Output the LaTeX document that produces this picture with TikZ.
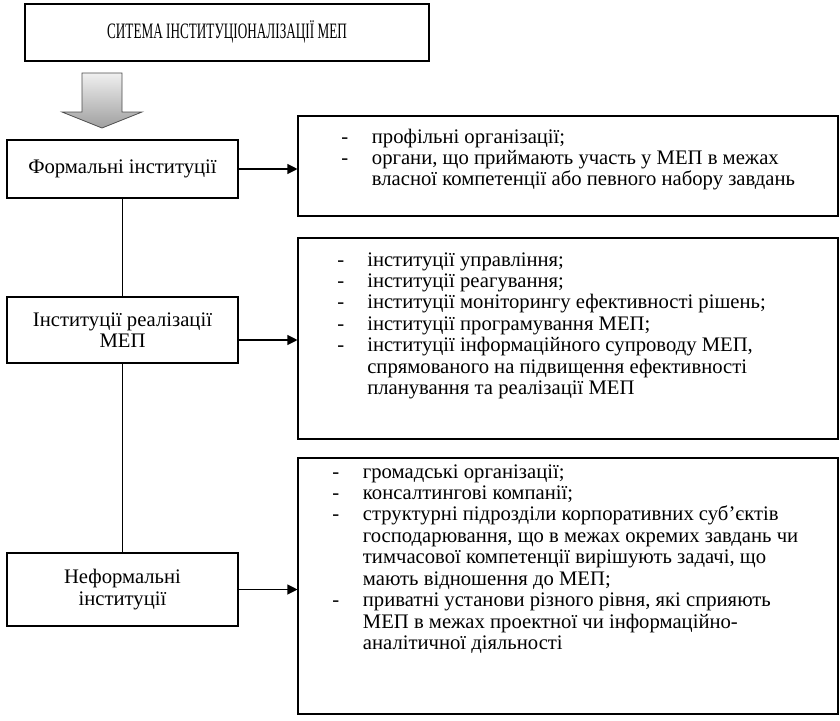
\documentclass[tikz,border=0pt]{standalone}
\usepackage{fontspec}
\setmainfont{Liberation Serif}
\usetikzlibrary{arrows.meta}

\begin{document}
\begin{tikzpicture}[x=0.75pt, y=-0.75pt,
    txt/.style={font=\fontsize{15.5pt}{16.1pt}\selectfont},
    box/.style={draw, line width=0.8pt, inner sep=0pt, txt},
    leftbox/.style={box, minimum width=173.25pt, align=center},
    listbox/.style={box, minimum width=405pt},
    listtext/.style={anchor=base west, inner sep=0pt, txt},
    link/.style={line width=0.8pt},
    toright/.style={link, -{Triangle[length=7.5pt, width=7.5pt]}}]
    \useasboundingbox (0,0) rectangle (840,721);

    % Title box
    \node[box, minimum width=303pt, minimum height=42.75pt] (title) at (227,32.5)
        {\raisebox{5pt}{\scalebox{0.6}[1]{\fontsize{16.5pt}{18pt}\selectfont СИТЕМА ІНСТИТУЦІОНАЛІЗАЦІЇ МЕП}}};

    % Shaded down arrow
    \shade[top color=gray!12, bottom color=gray!75, draw=black!70, line width=0.6pt]
        (82,73) -- (122,73) -- (122,112) -- (142,112) -- (102,128) -- (62,112) -- (82,112) -- cycle;

    % Left column
    \node[leftbox, minimum height=43.5pt] (formal) at (122.5,169) {Формальні інституції};
    \node[leftbox, minimum height=49.5pt] (impl) at (122.5,330) {Інституції реалізації\\МЕП};
    \node[leftbox, minimum height=54.75pt] (informal) at (122.5,589.5) {Неформальні\\інституції};

    \draw[link] (formal) -- (impl);
    \draw[link] (impl) -- (informal);

    % Right column
    \node[listbox, minimum height=75pt] (list1) at (568,166) {};
    \node[listbox, minimum height=150.75pt] (list2) at (568,338.5) {};
    \node[listbox, minimum height=192pt] (list3) at (568,586) {};

    \node[listtext] (items1) at (341,143) {\begin{tabular}[t]{@{}p{23pt}@{}l@{}}
        - & профільні організації;\\
        - & органи, що приймають участь у МЕП в межах\\
          & власної компетенції або певного набору завдань
    \end{tabular}};
    \node[listtext] (items2) at (337,266) {\begin{tabular}[t]{@{}p{22.5pt}@{}l@{}}
        - & інституції управління;\\
        - & інституції реагування;\\
        - & інституції моніторингу ефективності рішень;\\
        - & інституції програмування МЕП;\\
        - & інституції інформаційного супроводу МЕП,\\
          & спрямованого на підвищення ефективності\\
          & планування та реалізації МЕП
    \end{tabular}};
    \node[listtext] (items3) at (332,478) {\begin{tabular}[t]{@{}p{23pt}@{}l@{}}
        - & громадські організації;\\
        - & консалтингові компанії;\\
        - & структурні підрозділи корпоративних суб’єктів\\
          & господарювання, що в межах окремих завдань чи\\
          & тимчасової компетенції вирішують задачі, що\\
          & мають відношення до МЕП;\\
        - & приватні установи різного рівня, які сприяють\\
          & МЕП в межах проектної чи інформаційно-\\
          & аналітичної діяльності
    \end{tabular}};

    % Arrows to the lists
    \draw[toright] (formal.east) -- (formal.east -| list1.west);
    \draw[toright] ([yshift=-7.5pt]impl.east) -- ([yshift=-7.5pt]impl.east -| list2.west);
    \draw[toright] (informal.east) -- (informal.east -| list3.west);
\end{tikzpicture}
\end{document}
